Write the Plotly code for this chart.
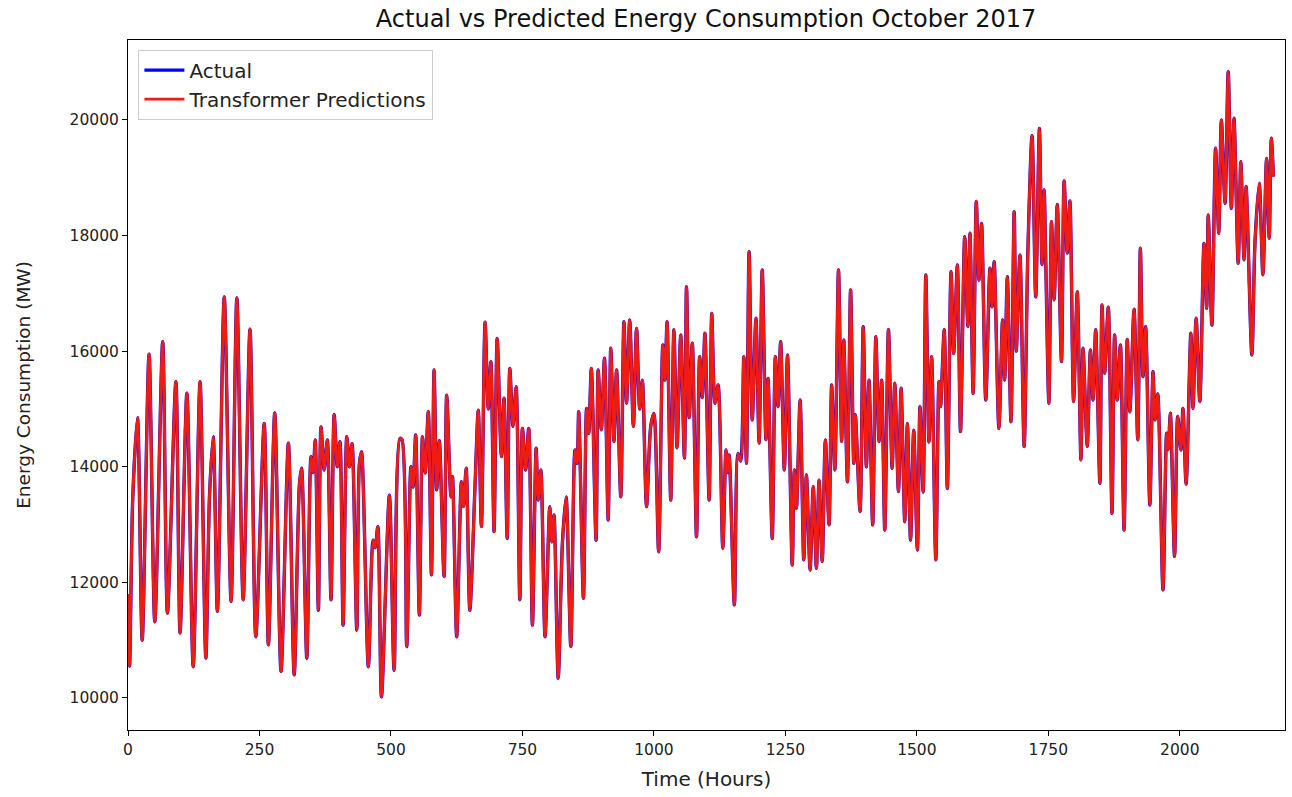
import plotly.graph_objects as go

# Hour index of each local extreme
hours = [
    0, 3, 9, 18, 27, 40, 51, 66, 75, 91, 99, 112, 124, 137, 148, 155, 162, 170, 183, 196,
    207, 219, 232, 243, 259, 267, 279, 291, 305, 316, 326, 330, 340, 348, 352, 356, 362, 367, 373, 379,
    386, 392, 398, 403, 409, 416, 421, 426, 435, 440, 444, 457, 466, 470, 475, 482, 497, 506, 517, 521,
    530, 538, 542, 547, 554, 560, 565, 571, 577, 582, 587, 592, 601, 606, 614, 617, 625, 634, 638, 643,
    650, 660, 666, 672, 679, 685, 690, 696, 702, 710, 715, 721, 726, 732, 738, 745, 750, 756, 762, 769,
    776, 780, 785, 793, 802, 806, 810, 818, 826, 833, 842, 850, 854, 857, 866, 872, 876, 881, 890, 894,
    900, 906, 913, 918, 924, 929, 937, 943, 948, 954, 961, 967, 973, 978, 986, 994, 1000, 1009, 1017, 1021,
    1025, 1032, 1038, 1044, 1051, 1058, 1062, 1067, 1073, 1081, 1087, 1092, 1097, 1105, 1110, 1116, 1122, 1131, 1137, 1140,
    1143, 1153, 1160, 1165, 1171, 1176, 1181, 1187, 1194, 1200, 1206, 1213, 1217, 1225, 1231, 1236, 1241, 1248, 1254, 1263,
    1267, 1271, 1278, 1285, 1290, 1297, 1303, 1309, 1314, 1320, 1326, 1333, 1338, 1344, 1351, 1357, 1361, 1368, 1374, 1380,
    1383, 1392, 1398, 1404, 1409, 1416, 1422, 1428, 1433, 1439, 1446, 1453, 1458, 1465, 1470, 1477, 1482, 1488, 1494, 1501,
    1506, 1512, 1517, 1523, 1528, 1536, 1542, 1545, 1552, 1558, 1565, 1570, 1577, 1583, 1591, 1597, 1601, 1607, 1613, 1618,
    1623, 1631, 1639, 1643, 1647, 1656, 1663, 1667, 1672, 1679, 1685, 1689, 1696, 1704, 1711, 1719, 1726, 1733, 1738, 1742,
    1745, 1751, 1756, 1761, 1767, 1775, 1780, 1786, 1791, 1798, 1805, 1812, 1816, 1824, 1830, 1835, 1840, 1848, 1852, 1857,
    1864, 1871, 1876, 1881, 1887, 1894, 1900, 1905, 1913, 1920, 1925, 1930, 1935, 1943, 1949, 1953, 1958, 1968, 1975, 1978,
    1982, 1990, 1996, 2002, 2006, 2012, 2021, 2025, 2031, 2038, 2046, 2051, 2054, 2061, 2068, 2074, 2079, 2086, 2092, 2098,
    2103, 2111, 2116, 2122, 2126, 2137, 2143, 2151, 2158, 2165, 2170, 2174, 2178,
]

# Actual consumption (MW) at those hours
actual_mw = [
    11800, 10550, 13450, 14850, 11000, 15950, 11320, 16165, 11470, 15470, 11125, 15275, 10540, 15470, 10690, 13500, 14520, 11500, 16940, 11670,
    16920, 11700, 16380, 11060, 14750, 10920, 14930, 10460, 14410, 10400, 13700, 13975, 10690, 14175, 13900, 14465, 11520, 14690, 13945, 14465,
    11700, 14900, 14000, 14435, 11260, 14520, 14000, 14400, 11175, 14050, 14260, 10540, 12730, 12600, 12965, 10020, 13510, 10480, 14490, 14470,
    10890, 14000, 13650, 14550, 11435, 14520, 13890, 14955, 12130, 15675, 13600, 14450, 12100, 15240, 13480, 13830, 11060, 13740, 13310, 13975,
    11520, 13710, 14980, 12965, 16500, 15000, 15820, 12880, 16220, 14175, 15185, 12760, 15700, 14700, 15385, 11700, 14665, 13945, 14665, 11260,
    14320, 13425, 13945, 11060, 13310, 12700, 13165, 10340, 12675, 13480, 10890, 14290, 14060, 14955, 11725, 15010, 14580, 15700, 12730, 15675,
    14640, 15880, 13080, 16050, 14435, 15675, 13480, 16510, 15100, 16540, 14700, 16395, 15000, 15500, 13310, 14700, 14925, 12530, 16110, 15500,
    16510, 13425, 16370, 14330, 16280, 14150, 17115, 14850, 16140, 12790, 15905, 15200, 16310, 13425, 16655, 15100, 15415, 12590, 14290, 13900,
    14205, 11610, 14230, 14100, 15905, 14060, 17720, 14810, 16570, 14410, 17405, 14470, 15530, 12760, 15905, 15040, 16165, 13945, 15935, 12300,
    13945, 13280, 15155, 12390, 13860, 12215, 13655, 12245, 13770, 12360, 14465, 12995, 15415, 13945, 17405, 14440, 16195, 13740, 17060, 14060,
    14900, 13225, 16425, 14000, 15500, 12995, 16250, 14435, 15500, 12905, 16370, 13975, 15445, 13570, 15360, 13050, 14750, 12730, 14635, 12560,
    15040, 13565, 17320, 14430, 15905, 12390, 15470, 15040, 16370, 13625, 17375, 15960, 17490, 14610, 17980, 16425, 18040, 15270, 18590, 17230,
    18210, 15155, 17435, 16770, 17550, 14665, 16540, 15500, 17290, 14780, 18415, 16000, 17665, 14350, 17700, 19730, 16940, 19855, 17500, 18790,
    17600, 15100, 18240, 16890, 18540, 15820, 18945, 17700, 18600, 15130, 17030, 14120, 16050, 14350, 16020, 15155, 16370, 13715, 16800, 15620,
    16760, 13195, 16280, 15155, 16110, 12905, 16205, 14950, 16725, 14465, 17780, 15560, 16425, 13340, 15645, 14810, 15260, 11870, 14580, 14300,
    14925, 12450, 14870, 14290, 15010, 13700, 16310, 15010, 16570, 15130, 17865, 16740, 18355, 16450, 19510, 18040, 20000, 18560, 20835, 18470,
    20030, 17520, 19280, 17580, 18850, 15935, 17895, 18905, 17320, 19335, 17955, 19685, 19020,
]

# Transformer predictions track the actual series
predicted_mw = list(actual_mw)

FONT = "DejaVu Sans, Liberation Sans, sans-serif"

fig = go.Figure()
fig.add_trace(go.Scatter(
    x=hours, y=actual_mw, mode="lines", name="Actual",
    line=dict(color="#0000ff", width=3.4, shape="spline", smoothing=0.8),
))
fig.add_trace(go.Scatter(
    x=hours, y=predicted_mw, mode="lines", name="Transformer Predictions",
    line=dict(color="#f01c14", width=2.9, shape="spline", smoothing=0.8),
))

axis_common = dict(
    showgrid=False, zeroline=False, showline=True, linecolor="black", linewidth=1,
    mirror=True, ticks="outside", ticklen=5, tickcolor="black",
    tickfont=dict(family=FONT, size=15.5, color="#222"),
)

fig.update_layout(
    width=1292, height=797,
    paper_bgcolor="white", plot_bgcolor="white",
    margin=dict(l=128, r=7, t=40, b=67),
    title=dict(text="Actual vs Predicted Energy Consumption October 2017",
               x=0.5465, xanchor="center", y=0.977, yanchor="middle",
               font=dict(family=FONT, size=24, color="#111")),
    xaxis=dict(range=[0, 2200], tickvals=[0, 250, 500, 750, 1000, 1250, 1500, 1750, 2000],
               title=dict(text="Time (Hours)", font=dict(family=FONT, size=20, color="#222"), standoff=14),
               **axis_common),
    yaxis=dict(range=[9446, 21384], tickvals=[10000, 12000, 14000, 16000, 18000, 20000],
               tickformat="d",
               title=dict(text="Energy Consumption (MW)", font=dict(family=FONT, size=18.5, color="#222"), standoff=34),
               **axis_common),
    legend=dict(x=0.009, y=0.986, xanchor="left", yanchor="top",
                bgcolor="rgba(255,255,255,0.9)", bordercolor="#cccccc", borderwidth=1,
                font=dict(family=FONT, size=20, color="#222"), tracegroupgap=2,
                itemwidth=40),
    showlegend=True,
)

fig.write_html("out.html")
